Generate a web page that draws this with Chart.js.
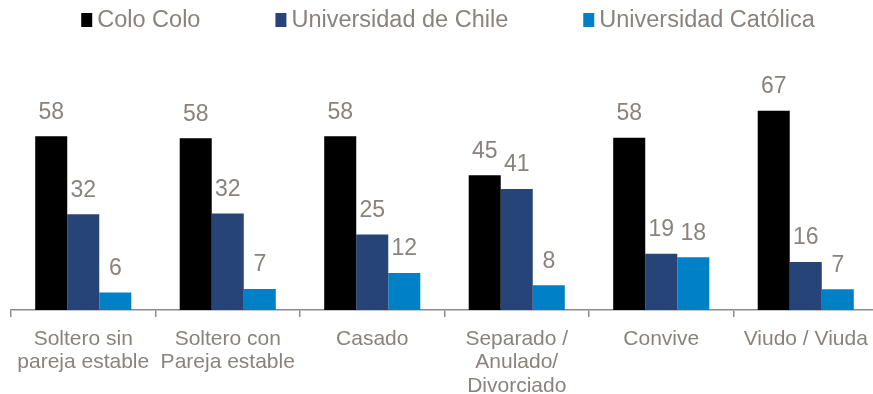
<!DOCTYPE html>
<html>
<head>
<meta charset="utf-8">
<script src="https://cdn.jsdelivr.net/npm/chart.js@4.4.0/dist/chart.umd.min.js"></script>
<style>
  html, body { margin: 0; padding: 0; background: #fff; overflow: hidden; }
  #wrap { width: 878px; height: 394px; position: relative; }
</style>
</head>
<body>
<div id="wrap"><canvas id="civilStatusChart"></canvas></div>
<script>
// categories (multi-line labels as arrays)
const categories = [
  ['Soltero sin', 'pareja estable'],
  ['Soltero con', 'Pareja estable'],
  'Casado',
  ['Separado /', 'Anulado/', 'Divorciado'],
  'Convive',
  'Viudo / Viuda'
];
const seriesNames = ['Colo Colo', 'Universidad de Chile', 'Universidad Católica'];
const coloColo = [58.4, 57.7, 58.4, 45.3, 57.9, 67.0];
const uChile = [32.2, 32.4, 25.4, 40.7, 18.9, 16.1];
const uCatolica = [5.9, 7.1, 12.4, 8.3, 17.7, 7.0];
const seriesColors = ['#000000', '#264478', '#0080c6'];

const fontFamily = '"Liberation Sans", Arial, sans-serif';
const textGray = '#8a827d';
const axisGray = '#8c8c8c';

// value labels above each bar
const valueLabels = {
  id: 'valueLabels',
  afterDatasetsDraw(chart) {
    const ctx = chart.ctx;
    ctx.save();
    ctx.font = '23px ' + fontFamily;
    ctx.fillStyle = textGray;
    ctx.textAlign = 'center';
    ctx.textBaseline = 'middle';
    chart.data.datasets.forEach((ds, i) => {
      chart.getDatasetMeta(i).data.forEach((bar, j) => {
        ctx.fillText(Math.round(ds.data[j]), bar.x, bar.y - 24);
      });
    });
    ctx.restore();
  }
};

// legend row at the top (square + text, wide spacing)
const topLegend = {
  id: 'topLegend',
  afterDraw(chart) {
    const ctx = chart.ctx;
    ctx.save();
    ctx.font = '23.5px ' + fontFamily;
    const items = chart.data.datasets.map(ds => ({
      label: ds.label,
      color: ds.backgroundColor,
      w: 16 + ctx.measureText(ds.label).width
    }));
    const gap = 75;
    const total = items.reduce((s, it) => s + it.w, 0) + gap * (items.length - 1);
    let x = 448 - total / 2;
    items.forEach(it => {
      ctx.fillStyle = it.color;
      ctx.fillRect(x, 13, 11, 14);
      ctx.fillStyle = textGray;
      ctx.textAlign = 'left';
      ctx.textBaseline = 'middle';
      ctx.fillText(it.label, x + 16, 21);
      x += it.w + gap;
    });
    ctx.restore();
  }
};

const ctx = document.getElementById('civilStatusChart').getContext('2d');
new Chart(ctx, {
  type: 'bar',
  data: {
    labels: categories,
    datasets: [
      { label: seriesNames[0], data: coloColo, backgroundColor: seriesColors[0] },
      { label: seriesNames[1], data: uChile, backgroundColor: seriesColors[1] },
      { label: seriesNames[2], data: uCatolica, backgroundColor: seriesColors[2] }
    ]
  },
  options: {
    responsive: true,
    maintainAspectRatio: false,
    animation: false,
    categoryPercentage: 0.665,
    barPercentage: 1.0,
    layout: { padding: { left: 11, right: 0, top: 72, bottom: 0 } },
    plugins: {
      legend: { display: false },
      tooltip: { enabled: false }
    },
    scales: {
      x: {
        offset: true,
        grid: { offset: true, drawOnChartArea: false, drawTicks: true, tickLength: 7, color: axisGray, lineWidth: 1.5 },
        border: { color: axisGray, width: 1.5 },
        ticks: {
          color: textGray,
          font: { size: 21, family: fontFamily, lineHeight: 1.12 },
          padding: 10,
          maxRotation: 0,
          autoSkip: false
        },
        afterFit(scale) { scale.height = 84; }
      },
      y: {
        display: false,
        min: 0,
        max: 80
      }
    }
  },
  plugins: [valueLabels, topLegend]
});
</script>
</body>
</html>
